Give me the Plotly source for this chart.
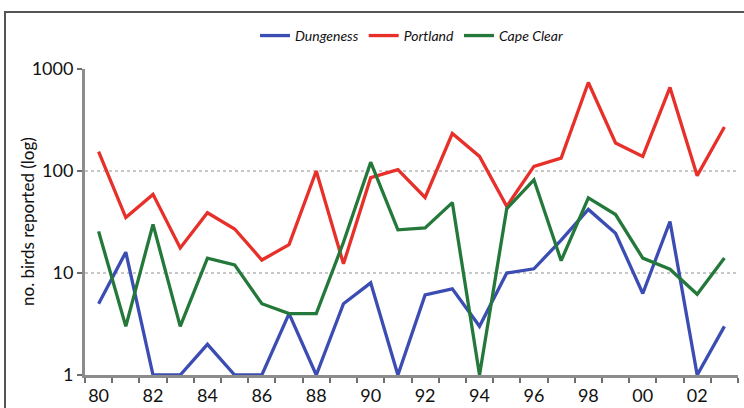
import plotly.graph_objects as go

years = list(range(1980, 2004))
tick_years = list(range(1980, 2003, 2))
tick_labels = ["80", "82", "84", "86", "88", "90", "92", "94", "96", "98", "00", "02"]

dungeness = [5, 16, 1, 1, 2, 1, 1, 4, 1, 5, 8, 1, 6.1, 7, 3, 10, 11, 21, 42, 24.5, 6.3, 32, 1, 3]
portland = [155, 35, 59, 17.6, 39, 27, 13.4, 19, 100, 12.3, 86, 103, 55, 233, 139, 45, 111, 134, 738, 188, 139, 659, 90, 270]
cape_clear = [25.6, 3, 30, 3, 14, 12, 5, 4, 4, 20, 122, 26.5, 27.7, 49, 1, 42.6, 82, 13.2, 54.6, 37.4, 14, 10.9, 6.2, 14]

series = [
    ("Dungeness", dungeness, "#3b4db3"),
    ("Portland", portland, "#e8302a"),
    ("Cape Clear", cape_clear, "#24793a"),
]

fig = go.Figure()
for name, vals, col in series:
    fig.add_trace(go.Scatter(x=years, y=vals, name=name, mode="lines",
                             line=dict(color=col, width=3.3)))

font_family = "Lato, 'Open Sans', sans-serif"

fig.update_layout(
    width=744, height=408,
    margin=dict(l=85, r=6, t=69, b=33, autoexpand=False),
    paper_bgcolor="white", plot_bgcolor="white",
    font=dict(family=font_family, color="#111"),
    showlegend=True,
    legend=dict(orientation="h", x=0.5, xanchor="center", y=1.108, yanchor="middle",
                font=dict(size=14, family=font_family, style="italic"),
                itemwidth=30, tracegroupgap=0, bgcolor="rgba(0,0,0,0)"),
    xaxis=dict(range=[1979.5, 2003.5], tickvals=tick_years, ticktext=tick_labels,
               ticks="", showgrid=False, zeroline=False, automargin=False,
               showline=True, linecolor="#8c8c8c", linewidth=3,
               tickfont=dict(size=18), ticklabelstandoff=2,
               minor=dict(tickvals=[y + 0.5 for y in range(1979, 2004)],
                          ticks="outside", ticklen=5, tickcolor="#6e6e6e", tickwidth=2,
                          showgrid=False)),
    yaxis=dict(type="log", range=[0, 3], tickvals=[1, 10, 100, 1000],
               ticktext=["1", "10", "100", "1000"], automargin=False,
               ticks="outside", ticklen=5, tickcolor="#6e6e6e", tickwidth=2,
               showline=True, linecolor="#8c8c8c", linewidth=3,
               showgrid=True, gridcolor="#c8c8c8", griddash="dot", gridwidth=1.5,
               zeroline=False, tickfont=dict(size=18)),
    annotations=[dict(text="no. birds reported (log)", textangle=-90, showarrow=False,
                      xref="paper", yref="paper", x=(27 - 85) / 653, y=0.5,
                      xanchor="center", yanchor="middle", font=dict(size=17))],
)

fig.add_shape(type="rect", xref="paper", yref="paper",
              x0=(5 - 85) / 653, x1=1.2, y0=-0.5, y1=1 + (69 - 12) / 306,
              line=dict(color="#555", width=2), fillcolor="rgba(0,0,0,0)", layer="above")

fig.write_html("out.html", config={"displayModeBar": False},
               post_script="document.body.style.margin='0';document.body.style.overflow='hidden';")
